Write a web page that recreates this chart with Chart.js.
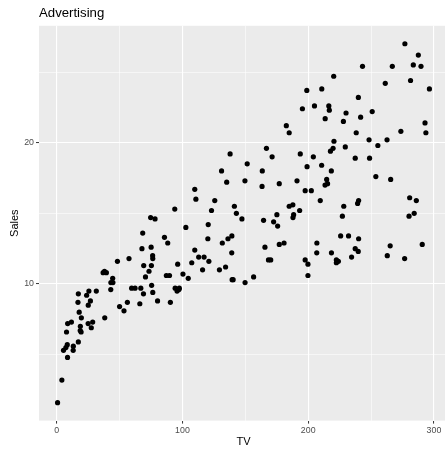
<!DOCTYPE html>
<html lang="en">
<head>
    <meta charset="UTF-8">
    <title>Advertising</title>
    <script src="https://cdn.jsdelivr.net/npm/chart.js"></script>
    <style>
        body { margin: 0; overflow: hidden; background: #ffffff; }
    </style>
</head>
<body>
    <canvas id="chart" width="453" height="449"></canvas>

    <script>
        // TV budget (x) and Sales (y)
        const tv = [
            230.1, 44.5, 17.2, 151.5, 180.8, 8.7, 57.5, 120.2, 8.6, 199.8,
            66.1, 214.7, 23.8, 97.5, 204.1, 195.4, 67.8, 281.4, 69.2, 147.3,
            218.4, 237.4, 13.2, 228.3, 62.3, 262.9, 142.9, 240.1, 248.8, 70.6,
            292.9, 112.9, 97.2, 265.6, 95.7, 290.7, 266.9, 74.7, 43.1, 228,
            202.5, 177, 293.6, 206.9, 25.1, 175.1, 89.7, 239.9, 227.2, 66.9,
            199.8, 100.4, 216.4, 182.6, 262.7, 198.9, 7.3, 136.2, 210.8, 210.7,
            53.5, 261.3, 239.3, 102.7, 131.1, 69, 31.5, 139.3, 237.4, 216.8,
            199.1, 109.8, 26.8, 129.4, 213.4, 16.9, 27.5, 120.5, 5.4, 116,
            76.4, 239.8, 75.3, 68.4, 213.5, 193.2, 76.3, 110.7, 88.3, 109.8,
            134.3, 28.6, 217.7, 250.9, 107.4, 163.3, 197.6, 184.9, 289.7, 135.2,
            222.4, 296.4, 280.2, 187.9, 238.2, 137.9, 25, 90.4, 13.1, 255.4,
            225.8, 241.7, 175.7, 209.6, 78.2, 75.1, 139.2, 76.4, 125.7, 19.4,
            141.3, 18.8, 224, 123.1, 229.5, 87.2, 7.8, 80.2, 220.3, 59.6,
            0.7, 265.2, 8.4, 219.8, 36.9, 48.3, 25.6, 273.7, 43, 184.9,
            73.4, 193.7, 220.5, 104.6, 96.2, 140.3, 240.1, 243.2, 38, 44.7,
            280.7, 121, 197.6, 171.3, 187.8, 4.1, 93.9, 149.8, 11.7, 131.7,
            172.5, 85.7, 188.4, 163.5, 117.2, 234.5, 17.9, 206.8, 215.4, 284.3,
            50, 164.5, 19.6, 168.4, 222.4, 276.9, 248.4, 170.2, 276.7, 165.6,
            156.6, 218.5, 56.2, 287.6, 253.8, 205, 139.5, 191.1, 286, 18.7,
            39.5, 75.5, 17.2, 166.8, 149.7, 38.2, 94.2, 177, 283.6, 232.1
        ];
        const sales = [
            22.1, 10.4, 9.3, 18.5, 12.9, 7.2, 11.8, 13.2, 4.8, 10.6,
            8.6, 17.4, 9.2, 9.7, 19, 22.4, 12.5, 24.4, 11.3, 14.6,
            18, 12.5, 5.6, 15.5, 9.7, 12, 15, 15.9, 18.9, 10.5,
            21.4, 11.9, 9.6, 17.4, 9.5, 12.8, 25.4, 14.7, 10.1, 21.5,
            16.6, 17.1, 20.7, 12.9, 8.5, 14.9, 10.6, 23.2, 14.8, 9.7,
            11.4, 10.7, 22.6, 21.2, 20.2, 23.7, 5.5, 13.2, 23.8, 18.4,
            8.1, 24.2, 15.7, 14, 18, 9.3, 9.5, 13.4, 18.9, 22.3,
            18.3, 12.4, 8.8, 11, 17, 8.7, 6.9, 14.2, 5.3, 11,
            11.8, 12.3, 11.3, 13.6, 21.7, 15.2, 12, 16, 12.9, 16.7,
            11.2, 7.3, 19.4, 22.2, 11.5, 16.9, 11.7, 15.5, 25.4, 17.2,
            11.7, 23.8, 14.8, 14.7, 20.7, 19.2, 7.2, 8.7, 5.3, 19.8,
            13.4, 21.8, 14.1, 15.9, 14.6, 12.6, 12.2, 9.4, 15.9, 6.6,
            15.5, 7, 11.6, 15.2, 19.7, 10.6, 6.6, 8.8, 24.7, 9.7,
            1.6, 12.7, 5.7, 19.6, 10.8, 11.6, 9.5, 20.8, 9.6, 20.7,
            10.9, 19.2, 20.1, 10.4, 11.4, 10.3, 13.2, 25.4, 10.9, 10.1,
            16.1, 11.6, 16.6, 19, 15.6, 3.2, 15.3, 10.1, 7.3, 12.9,
            14.4, 13.3, 14.9, 18, 11.9, 11.9, 8, 12.2, 17.1, 15,
            8.4, 14.5, 7.6, 11.7, 11.5, 27, 20.2, 11.7, 11.8, 12.6,
            10.5, 12.2, 8.7, 26.2, 17.6, 22.6, 10.3, 17.3, 15.9, 6.7,
            10.8, 9.9, 5.9, 19.6, 17.3, 7.6, 9.7, 12.8, 25.5, 13.4
        ];

        // major + minor grid positions (ggplot style)
        const xTicks = [0, 50, 100, 150, 200, 250, 300];
        const xLabels = [0, 100, 200, 300];
        const yTicks = [5, 10, 15, 20, 25];
        const yLabels = [10, 20];

        const points = tv.map((t, i) => ({ x: t, y: sales[i] }));

        // ggplot expands the range by 5% each side
        const xPad = (Math.max(...tv) - Math.min(...tv)) * 0.05;
        const yPad = (Math.max(...sales) - Math.min(...sales)) * 0.05;

        const panelBg = {
            id: 'panelBg',
            beforeDraw(chart) {
                const { ctx, chartArea: a } = chart;
                ctx.save();
                ctx.fillStyle = '#EBEBEB';
                ctx.fillRect(a.left, a.top, a.right - a.left, a.bottom - a.top);
                ctx.restore();
            },
            afterDraw(chart) {
                const ctx = chart.ctx;
                ctx.save();
                ctx.fillStyle = '#000000';
                ctx.font = '13.2px "Liberation Sans", Arial, sans-serif';
                ctx.textBaseline = 'alphabetic';
                ctx.fillText('Advertising', 39, 17);
                ctx.restore();
            }
        };

        const gridOpts = (labels) => ({
            color: '#FFFFFF',
            lineWidth: c => labels.includes(c.tick.value) ? 1.1 : 0.55,
            drawTicks: true,
            tickLength: 3,
            tickWidth: 1,
            tickColor: c => labels.includes(c.tick.value) ? '#333333' : 'rgba(0,0,0,0)'
        });

        new Chart(document.getElementById('chart'), {
            type: 'scatter',
            data: {
                datasets: [{
                    data: points,
                    backgroundColor: '#000000',
                    borderWidth: 0,
                    pointRadius: 2.6,
                    pointHoverRadius: 2.6
                }]
            },
            options: {
                responsive: false,
                animation: false,
                layout: { padding: { top: 25.8, right: 5, left: 0, bottom: 0 } },
                plugins: {
                    legend: { display: false },
                    tooltip: { enabled: false },
                    title: { display: false }
                },
                scales: {
                    x: {
                        type: 'linear',
                        min: Math.min(...tv) - xPad,
                        max: Math.max(...tv) + xPad,
                        afterBuildTicks: s => { s.ticks = xTicks.map(v => ({ value: v })); },
                        afterFit: s => { s.height = 28.4; },
                        border: { display: false },
                        grid: gridOpts(xLabels),
                        ticks: {
                            color: '#4D4D4D',
                            font: { family: '"Liberation Sans", Arial, sans-serif', size: 8.8 },
                            padding: 2,
                            maxRotation: 0,
                            autoSkip: false,
                            callback: v => xLabels.includes(v) ? String(v) : ''
                        },
                        title: {
                            display: true,
                            text: 'TV',
                            color: '#000000',
                            font: { family: '"Liberation Sans", Arial, sans-serif', size: 11 },
                            padding: { top: 2, bottom: 0 }
                        }
                    },
                    y: {
                        type: 'linear',
                        min: Math.min(...sales) - yPad,
                        max: Math.max(...sales) + yPad,
                        afterBuildTicks: s => { s.ticks = yTicks.map(v => ({ value: v })); },
                        afterFit: s => { s.width = 39; },
                        border: { display: false },
                        grid: gridOpts(yLabels),
                        ticks: {
                            color: '#4D4D4D',
                            font: { family: '"Liberation Sans", Arial, sans-serif', size: 8.8 },
                            padding: 2,
                            autoSkip: false,
                            callback: v => yLabels.includes(v) ? String(v) : ''
                        },
                        title: {
                            display: true,
                            text: 'Sales',
                            color: '#000000',
                            font: { family: '"Liberation Sans", Arial, sans-serif', size: 11 },
                            padding: { top: 8, bottom: 2 }
                        }
                    }
                }
            },
            plugins: [panelBg]
        });
    </script>
</body>
</html>
